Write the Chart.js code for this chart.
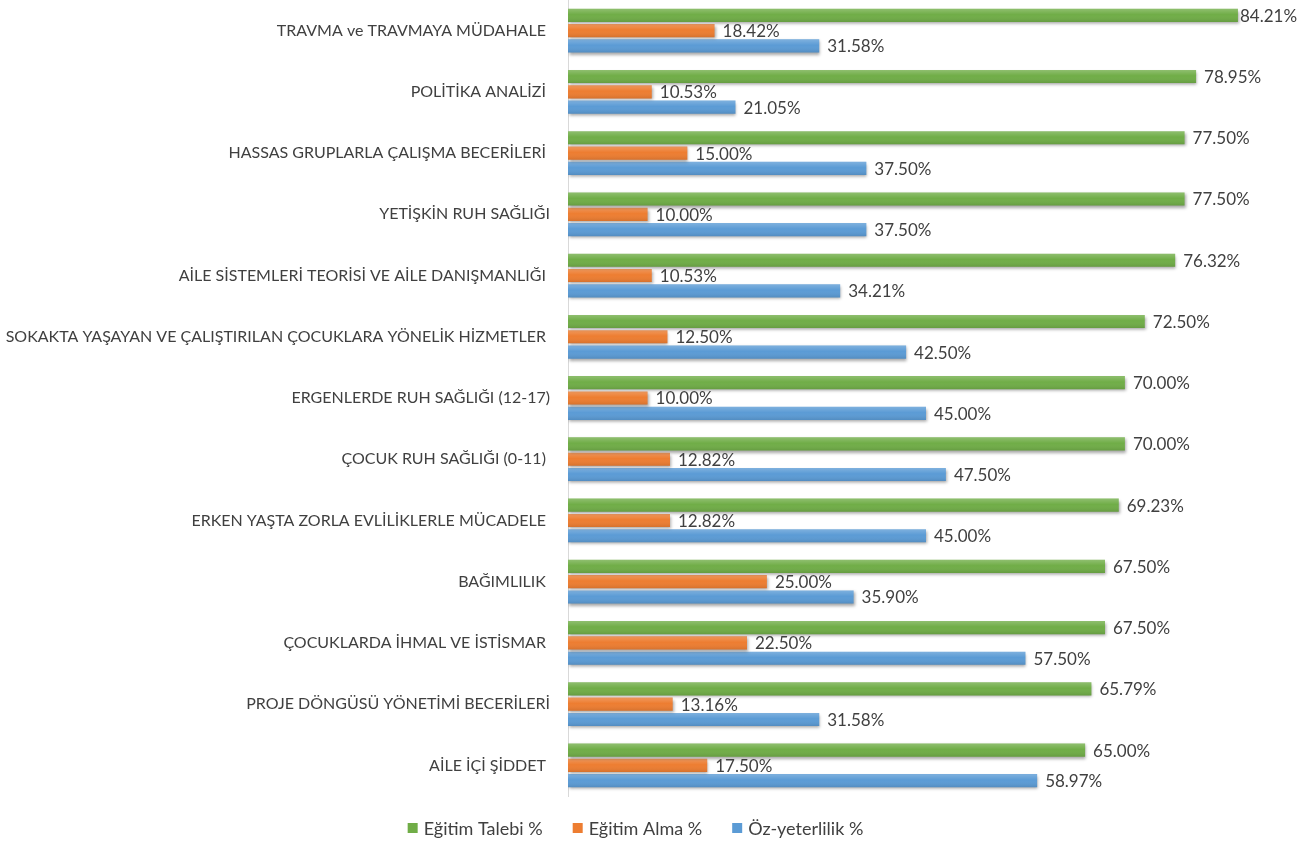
<!DOCTYPE html>
<html lang="tr">
<head>
<meta charset="utf-8">
<title>Eğitim ihtiyacı</title>
<script src="https://cdn.jsdelivr.net/npm/chart.js@4.4.1/dist/chart.umd.min.js"></script>
<style>
  html, body { margin: 0; padding: 0; background: #ffffff; }
  #wrap { position: relative; width: 1305px; height: 841px; }
</style>
</head>
<body>
<div id="wrap"><canvas id="egitimChart"></canvas></div>
<script>
// --- Veriler ---
const KONULAR = [
  "TRAVMA ve TRAVMAYA MÜDAHALE ",
  "POLİTİKA ANALİZİ ",
  "HASSAS GRUPLARLA ÇALIŞMA BECERİLERİ ",
  "YETİŞKİN RUH SAĞLIĞI",
  "AİLE SİSTEMLERİ TEORİSİ VE AİLE DANIŞMANLIĞI ",
  "SOKAKTA YAŞAYAN VE ÇALIŞTIRILAN ÇOCUKLARA YÖNELİK HİZMETLER ",
  "ERGENLERDE RUH SAĞLIĞI (12-17)",
  "ÇOCUK RUH SAĞLIĞI (0-11) ",
  "ERKEN YAŞTA ZORLA EVLİLİKLERLE MÜCADELE ",
  "BAĞIMLILIK ",
  "ÇOCUKLARDA İHMAL VE İSTİSMAR ",
  "PROJE DÖNGÜSÜ YÖNETİMİ BECERİLERİ",
  "AİLE İÇİ ŞİDDET ",
];
const EGITIM_TALEBI = [84.21, 78.95, 77.5, 77.5, 76.32, 72.5, 70.0, 70.0, 69.23, 67.5, 67.5, 65.79, 65.0];
const EGITIM_ALMA = [18.42, 10.53, 15.0, 10.0, 10.53, 12.5, 10.0, 12.82, 12.82, 25.0, 22.5, 13.16, 17.5];
const OZ_YETERLILIK = [31.58, 21.05, 37.5, 37.5, 34.21, 42.5, 45.0, 47.5, 45.0, 35.9, 57.5, 31.58, 58.97];
const SERI_ADLARI = ["Eğitim Talebi %", "Eğitim Alma %", "Öz-yeterlilik %"];

const RENKLER = ["#70ad47", "#ed7d31", "#5b9bd5"];
const YAZI = "Lato, 'Open Sans', sans-serif";
const YAZI_RENGI = "#404040";

// gölge + hafif parlaklık (Office çubuk görünümü)
const cubukGolge = {
  id: "cubukGolge",
  beforeDatasetsDraw(chart) {
    const ctx = chart.ctx;
    ctx.save();
    ctx.shadowColor = "rgba(0,0,0,0.35)";
    ctx.shadowBlur = 3;
    ctx.shadowOffsetX = 1;
    ctx.shadowOffsetY = 2;
  },
  afterDatasetsDraw(chart) {
    const ctx = chart.ctx;
    ctx.restore();
    chart.data.datasets.forEach((ds, i) => {
      const meta = chart.getDatasetMeta(i);
      meta.data.forEach((bar) => {
        const { x, y, base, height } = bar.getProps(["x", "y", "base", "height"], true);
        const top = y - height / 2;
        const g = ctx.createLinearGradient(0, top, 0, top + height);
        g.addColorStop(0, "rgba(255,255,255,0.22)");
        g.addColorStop(0.45, "rgba(255,255,255,0)");
        g.addColorStop(1, "rgba(0,0,0,0.10)");
        ctx.fillStyle = g;
        ctx.fillRect(base, top, x - base, height);
      });
    });
  },
};

// çubuk sonundaki yüzde etiketleri
const degerEtiketleri = {
  id: "degerEtiketleri",
  afterDatasetsDraw(chart) {
    const ctx = chart.ctx;
    ctx.save();
    ctx.font = "17px " + YAZI;
    ctx.fillStyle = YAZI_RENGI;
    ctx.textBaseline = "middle";
    ctx.textAlign = "left";
    chart.data.datasets.forEach((ds, i) => {
      const meta = chart.getDatasetMeta(i);
      meta.data.forEach((bar, j) => {
        const { x, y } = bar.getProps(["x", "y"], true);
        // en uzun çubukta etiket sağ kenara sığsın diye boşluk daralır
        const gap = x > 1230 ? 2 : 8;
        ctx.fillText(ds.data[j].toFixed(2) + "%", x + gap, y + 1);
      });
    });
    ctx.restore();
  },
};

// alt kısımda seri açıklaması
const altAciklama = {
  id: "altAciklama",
  afterDraw(chart) {
    const ctx = chart.ctx;
    ctx.save();
    ctx.font = "18px " + YAZI;
    ctx.textBaseline = "middle";
    const kutu = 10, bosluk = 6, ara = 30;
    const ogeler = chart.data.datasets.map((ds) => ({
      text: ds.label,
      color: ds.backgroundColor,
      w: ctx.measureText(ds.label).width,
    }));
    const toplam = ogeler.reduce((s, o) => s + kutu + bosluk + o.w, 0) + ara * (ogeler.length - 1);
    let x = (chart.width - toplam) / 2 - 17;
    const y = 828;
    ogeler.forEach((o) => {
      ctx.fillStyle = o.color;
      ctx.fillRect(x, y - kutu / 2, kutu, kutu);
      x += kutu + bosluk;
      ctx.fillStyle = YAZI_RENGI;
      ctx.fillText(o.text, x, y + 1);
      x += o.w + ara;
    });
    ctx.restore();
  },
};

const datasets = [EGITIM_TALEBI, EGITIM_ALMA, OZ_YETERLILIK].map((values, i) => ({
  label: SERI_ADLARI[i],
  data: values,
  backgroundColor: RENKLER[i],
  borderWidth: 0,
  categoryPercentage: 0.75,
  barPercentage: 0.86,
}));

new Chart(document.getElementById("egitimChart"), {
  type: "bar",
  data: { labels: KONULAR, datasets: datasets },
  options: {
    indexAxis: "y",
    responsive: true,
    maintainAspectRatio: false,
    animation: false,
    layout: { padding: { top: 0, right: 21, bottom: 45, left: 0 } },
    scales: {
      x: {
        display: false,
        min: 0,
        max: 90,
      },
      y: {
        grid: { display: false },
        border: { display: true, color: "#d9d9d9", width: 1 },
        ticks: {
          color: YAZI_RENGI,
          font: { family: YAZI, size: 16 },
          padding: 10,
          autoSkip: false,
        },
        afterFit(scale) {
          scale.width = 568;
          scale.paddingTop = 0;
          scale.paddingBottom = 0;
        },
      },
    },
    plugins: {
      legend: { display: false },
      tooltip: { enabled: false },
    },
  },
  plugins: [cubukGolge, degerEtiketleri, altAciklama],
});
</script>
</body>
</html>
